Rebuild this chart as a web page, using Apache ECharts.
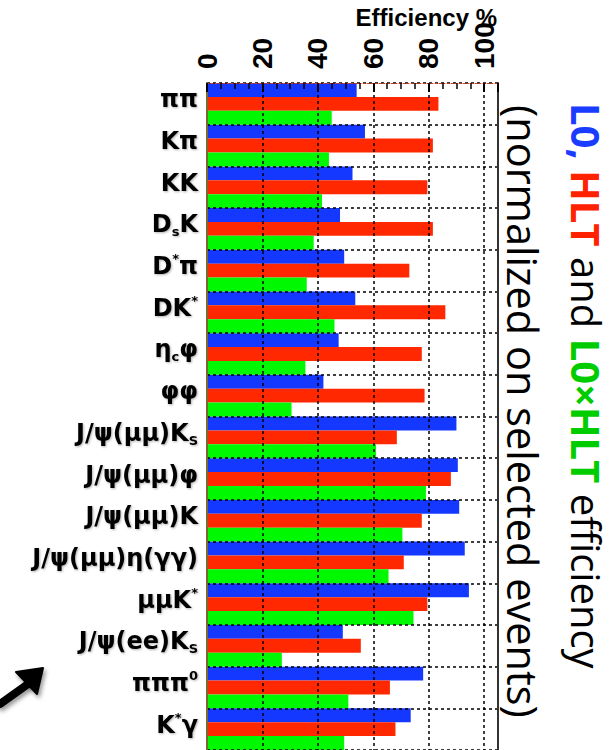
<!DOCTYPE html>
<html>
<head>
<meta charset="utf-8">
<script src="https://cdn.jsdelivr.net/npm/echarts@6/dist/echarts.min.js"></script>
<style>
html,body{margin:0;padding:0;background:#fff;}
#chart{width:615px;height:750px;}
</style>
</head>
<body>
<div id="chart"></div>
<script>
// Category labels (rich-text markup for sub/superscripts)
const categories = ["ππ","Kπ","KK","D{s|s}K","D{p|*}π","DK{p|*}","η{s|c}φ","φφ",
  "J/ψ(μμ)K{s|S}","J/ψ(μμ)φ","J/ψ(μμ)K","J/ψ(μμ)η(γγ)","μμK{p|*}","J/ψ(ee)K{s|S}","πππ{p|0}","K{p|*}γ"];
const seriesNames = ["L0", "HLT", "L0×HLT"];
const l0Values    = [54, 57, 52.5, 48, 49.5, 53.5, 47.5, 42, 90, 90.5, 91, 93, 94.5, 49, 78, 73.5];
const hltValues   = [83.5, 81.5, 79.5, 81.5, 73, 86, 77.5, 78.5, 68.5, 88, 77.5, 71, 79.5, 55.5, 66, 68];
const l0hltValues = [45, 44, 41.5, 38.5, 36, 46, 35.5, 30.5, 61, 79, 70.5, 65.5, 74.5, 27, 51, 49.5];
const tickValues  = [0, 20, 40, 60, 80, 100];

const chart = echarts.init(document.getElementById('chart'), null, {renderer: 'svg'});
const colors = ['#1438ff', '#ff2800', '#00f800'];
const dash = {type: [3, 3], color: '#000', width: 1.5};
const labFont = 'DejaVu Sans';

const option = {
  animation: false,
  backgroundColor: '#fff',
  grid: {left: 207, right: 117, top: 83, bottom: -1, containLabel: false},
  xAxis: [{
    type: 'value', position: 'top', min: 0, max: 105, interval: 20, z: 10,
    axisLine: {show: true, lineStyle: {color: '#d04020', width: 1, type: [2, 2]}},
    axisTick: {show: true, inside: true, length: 9, lineStyle: {color: '#000', width: 2}},
    minorTick: {show: true, splitNumber: 4, length: 6, lineStyle: {color: '#000', width: 1.5}},
    splitLine: {show: true, lineStyle: dash},
    axisLabel: {
      rotate: -90, margin: 14, fontSize: 28, fontWeight: 'bold', color: '#000',
      fontFamily: 'Liberation Sans',
      formatter: v => tickValues.indexOf(v) >= 0 ? String(v) : ''
    }
  }],
  yAxis: [{
    type: 'category', inverse: true, data: categories, z: 10,
    axisLine: {show: true, lineStyle: {color: '#7a6a30', width: 2}},
    axisTick: {show: false},
    splitLine: {show: true, interval: 0, lineStyle: dash},
    axisLabel: {
      interval: 0, margin: 9, color: '#000', fontSize: 24, fontWeight: 'bold',
      fontFamily: labFont, lineHeight: 28, padding: [0, 0, 9, 0],
      textShadowColor: 'rgba(0,0,0,0.3)', textShadowBlur: 2, textShadowOffsetX: 1, textShadowOffsetY: 1,
      rich: {
        s: {fontSize: 13, fontWeight: 'bold', color: '#000', verticalAlign: 'bottom', lineHeight: 28, fontFamily: labFont},
        p: {fontSize: 13, fontWeight: 'bold', color: '#000', verticalAlign: 'top', lineHeight: 28, fontFamily: labFont}
      }
    }
  }, {
    type: 'category', inverse: true, data: categories, position: 'right', z: 10,
    axisLine: {show: true, lineStyle: {color: '#333', width: 2}},
    axisTick: {show: false}, axisLabel: {show: false}, splitLine: {show: false}
  }],
  series: [
    {name: seriesNames[0], type: 'bar', data: l0Values, itemStyle: {color: colors[0]}, barGap: '0%', barCategoryGap: '0%'},
    {name: seriesNames[1], type: 'bar', data: hltValues, itemStyle: {color: colors[1]}, barGap: '0%', barCategoryGap: '0%'},
    {name: seriesNames[2], type: 'bar', data: l0hltValues, itemStyle: {color: colors[2]}, barGap: '0%', barCategoryGap: '0%'}
  ],
  graphic: [
    {type: 'text', x: 497, y: 5, style: {text: 'Efficiency %', fontSize: 24, fontWeight: 'bold', fontFamily: 'Liberation Sans', fill: '#000', align: 'right', verticalAlign: 'top'}},
    {type: 'text', x: 586, y: 103, rotation: -Math.PI / 2,
     style: {text: '{b|L0,} {r|HLT} and {g|L0×HLT} efficiency', fontSize: 40, fontFamily: 'Open Sans', fill: '#000', align: 'left', verticalAlign: 'middle',
       rich: {
         b: {fill: '#1a3cff', fontWeight: 'bold', fontSize: 40, fontFamily: 'Open Sans'},
         r: {fill: '#ff2200', fontWeight: 'bold', fontSize: 40, fontFamily: 'Open Sans'},
         g: {fill: '#00cc00', fontWeight: 'bold', fontSize: 40, fontFamily: 'Open Sans'}
       }}},
    {type: 'text', x: 523, y: 105, rotation: -Math.PI / 2,
     style: {text: '(normalized on selected events)', fontSize: 41.5, fontFamily: 'Open Sans', fill: '#000', align: 'left', verticalAlign: 'middle'}},
    {type: 'polyline', shape: {points: [[0, 704], [28, 684]]}, style: {stroke: '#000', lineWidth: 8, lineCap: 'round', shadowColor: 'rgba(0,0,0,0.4)', shadowBlur: 4, shadowOffsetX: 2, shadowOffsetY: 3}},
    {type: 'polygon', shape: {points: [[43, 668], [16, 672], [37, 694]]}, style: {fill: '#000', stroke: '#000', lineWidth: 2, lineJoin: 'round', shadowColor: 'rgba(0,0,0,0.4)', shadowBlur: 4, shadowOffsetX: 2, shadowOffsetY: 3}}
  ]
};
chart.setOption(option);
</script>
</body>
</html>
